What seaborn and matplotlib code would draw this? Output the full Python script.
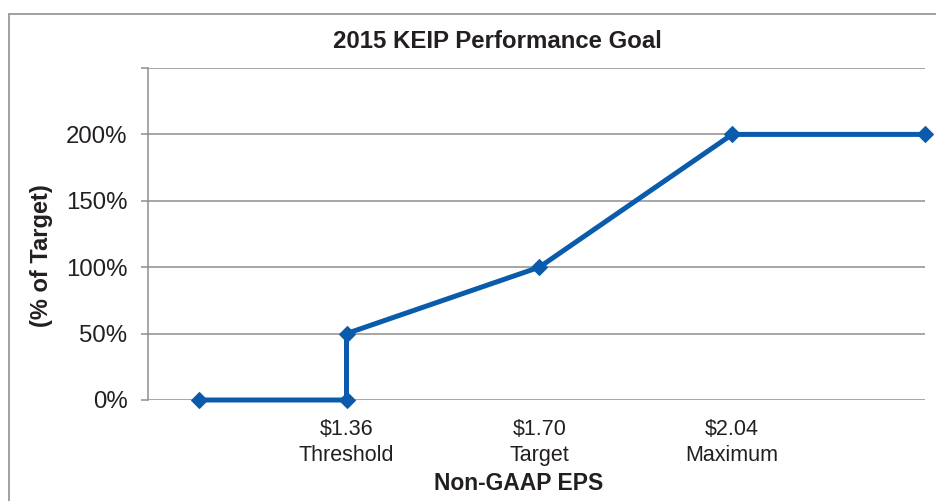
import matplotlib
matplotlib.use("Agg")
import matplotlib.pyplot as plt
import seaborn as sns
import pandas as pd
from matplotlib.lines import Line2D

# Data
eps = [1.10, 1.36, 1.36, 1.70, 2.04, 2.38]
payout = [0, 0, 50, 100, 200, 200]
tick_values = [1.36, 1.70, 2.04]
tick_names = ["Threshold", "Target", "Maximum"]
y_ticks = [0, 50, 100, 150, 200, 250]

sns.set_theme(style="white")
plt.rcParams["font.family"] = ["Liberation Sans", "DejaVu Sans"]

TXT = "#231f20"
GRID = "#8e8e8e"
BLUE = "#0a5bab"

fig = plt.figure(figsize=(9.37, 5.01), dpi=100)
ax = fig.add_axes([148 / 937, 1 - 400 / 501, (925 - 148) / 937, (400 - 68) / 501])

df = pd.DataFrame({"eps": eps, "payout": payout})
sns.lineplot(data=df, x="eps", y="payout", sort=False, estimator=None,
             color=BLUE, linewidth=3.6, marker="D", markersize=8,
             markeredgecolor=BLUE, markerfacecolor=BLUE, ax=ax, clip_on=False,
             zorder=5)

ax.set_xlim(1.01, 2.38)
ax.set_ylim(0, 250)

ax.set_yticks(y_ticks)
ax.set_yticklabels(["" if v == 250 else f"{v}%" for v in y_ticks],
                   fontsize=17.3, color=TXT)
ax.set_xticks(tick_values)
ax.set_xticklabels([f"${v:.2f}\n{n}" for v, n in zip(tick_values, tick_names)],
                   fontsize=15.5, color=TXT, linespacing=1.32)

ax.tick_params(axis="y", length=5.2, width=1.1, color=GRID, pad=9.5, left=True)
ax.tick_params(axis="x", length=0, pad=13.5)

ax.grid(axis="y", color=GRID, linewidth=1.1)
ax.grid(axis="x", visible=False)
for s in ["top", "right", "bottom"]:
    ax.spines[s].set_visible(False)
ax.spines["left"].set_color(GRID)
ax.spines["left"].set_linewidth(1.1)

ax.set_xlabel("Non-GAAP EPS", fontsize=16.5, fontweight="bold", color=TXT)
ax.xaxis.set_label_coords((519 - 148) / 777, -0.216)
ax.set_ylabel("(% of Target)", fontsize=17, fontweight="bold", color=TXT,
              va="center")
ax.yaxis.set_label_coords((41 - 148) / 777, (400 - 256) / 332)

fig.suptitle("2015 KEIP Performance Goal", x=497 / 937, y=1 - 42 / 501,
             va="center", fontsize=17.3, fontweight="bold", color=TXT)

# Outer chart border (left and top visible)
bx = 9.5 / 937
by = 1 - 13.5 / 501
fig.add_artist(Line2D([bx, bx], [0, by], transform=fig.transFigure,
                      color="#9a9a9a", linewidth=1.3))
fig.add_artist(Line2D([bx, 1], [by, by], transform=fig.transFigure,
                      color="#9a9a9a", linewidth=1.3))

fig.savefig("out.png", dpi=100, facecolor="white")
